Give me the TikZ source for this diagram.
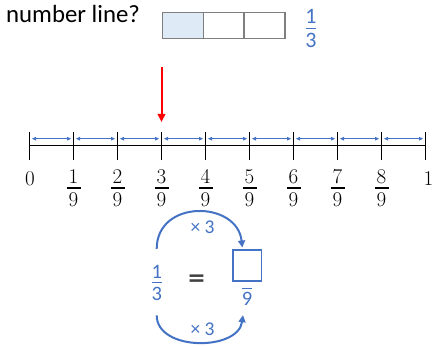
\documentclass[tikz,border=0pt]{standalone}
\usepackage{fontspec}
\newfontfamily\calfont{Carlito}
\newfontfamily\dvfont{DejaVu Sans}
\usetikzlibrary{arrows.meta,calc}
\definecolor{oblue}{HTML}{4472C4}
\definecolor{lfill}{HTML}{DEEBF7}
\definecolor{bgray}{HTML}{7F7F7F}
\definecolor{eqgray}{HTML}{404040}
\begin{document}
\begin{tikzpicture}[x=1pt,y=-1pt,
  numtxt/.style={font=\fontsize{21}{21}\selectfont, inner sep=0pt, anchor=base},
  bfr/.style={font=\calfont\fontsize{20.5}{20.5}\selectfont, text=oblue, inner sep=0pt, anchor=base},
  cell/.style={draw=bgray, line width=1.3pt, minimum width=40.9pt, minimum height=26pt, inner sep=0pt, outer sep=0pt},
  tick/.style={line width=1.6pt, black},
  barrow/.style={oblue, line width=0.8pt, {Triangle[length=4pt,width=3.6pt]}-{Triangle[length=4pt,width=3.6pt]}},
  arcarrow/.style={oblue, line width=2pt, -{Triangle[length=7pt,width=7pt]}},
  timeslbl/.style={font=\calfont\fontsize{19.5}{19.5}\selectfont, text=oblue, inner sep=0pt},
]
\useasboundingbox (0,0) rectangle (436,347);

% title
\node[anchor=base west, inner sep=0pt, font=\calfont\fontsize{24.8}{24.8}\selectfont] (title) at (6,22.7) {number line?};

% bar model
\node[cell, fill=lfill] (c0) at (182.75,25.3) {};
\node[cell] (c1) at (223.65,25.3) {};
\node[cell] (c2) at (264.55,25.3) {};

% top fraction 1/3
\node[bfr, font=\calfont\fontsize{22}{22}\selectfont] (tn) at (311,24) {1};
\node[bfr, font=\calfont\fontsize{22}{22}\selectfont] (td) at (311,48) {3};
\draw[oblue, line width=1.4pt] (305.8,28.4) -- (316.2,28.4);

% red arrow
\coordinate (redtop) at (161.5,67);
\coordinate (redtip) at (161.5,122);
\draw[red, line width=2pt, -{Triangle[length=8pt,width=7.5pt]}] (redtop) -- (redtip);

% number line
\draw[line width=1.5pt] (29.5,145.3) -- (425.5,145.3);
\foreach \k in {0,...,9} {
  \draw[tick] ({29.5+44*\k},131.7) -- ({29.5+44*\k},160);
}
\foreach \k in {0,...,8} {
  \draw[barrow] ({29.5+44*\k+2.5},138.7) -- ({29.5+44*\k+41.5},138.7);
}

% labels
\node[numtxt] (l0) at (30,185.7) {0};
\node[numtxt] (l9) at (428.5,185.7) {1};
\foreach \k in {1,...,8} {
  \node[numtxt] (n\k) at ({29.5+44*\k},183.3) {\k};
  \node[numtxt] (d\k) at ({29.5+44*\k},206.7) {9};
  \draw[line width=2pt] ({29.5+44*\k-7},188.3) -- ({29.5+44*\k+7},188.3);
}

% bottom equation
\node[bfr] (bn) at (156.7,278.3) {1};
\node[bfr] (bd) at (156.7,300) {3};
\draw[oblue, line width=1.4pt] (151.5,282.5) -- (161.9,282.5);

\node[font=\dvfont\bfseries\fontsize{22}{22}\selectfont, text=eqgray, inner sep=0pt] (eq) at (196.7,280) {=};

\node[draw=oblue, line width=1.5pt, minimum width=28.5pt, minimum height=30.5pt, inner sep=0pt] (qbox) at (247.3,265.5) {};
\draw[oblue, line width=1.4pt] (242,288.3) -- (252.4,288.3);
\node[bfr] (q9) at (247,305) {9};

\draw[arcarrow] ([yshift=16pt]bn.north) .. controls +(0,-50) and +(-5,-47) .. ([xshift=-5pt,yshift=2pt]qbox.north);
\draw[arcarrow] ([yshift=-15pt]bd.south) .. controls +(0,36) and +(-5,36) .. ([xshift=-4pt,yshift=-10pt]q9.south);

\node[timeslbl] (x1) at (202.5,227.5) {× 3};
\node[timeslbl] (x2) at (202.5,329) {× 3};
\end{tikzpicture}
\end{document}
